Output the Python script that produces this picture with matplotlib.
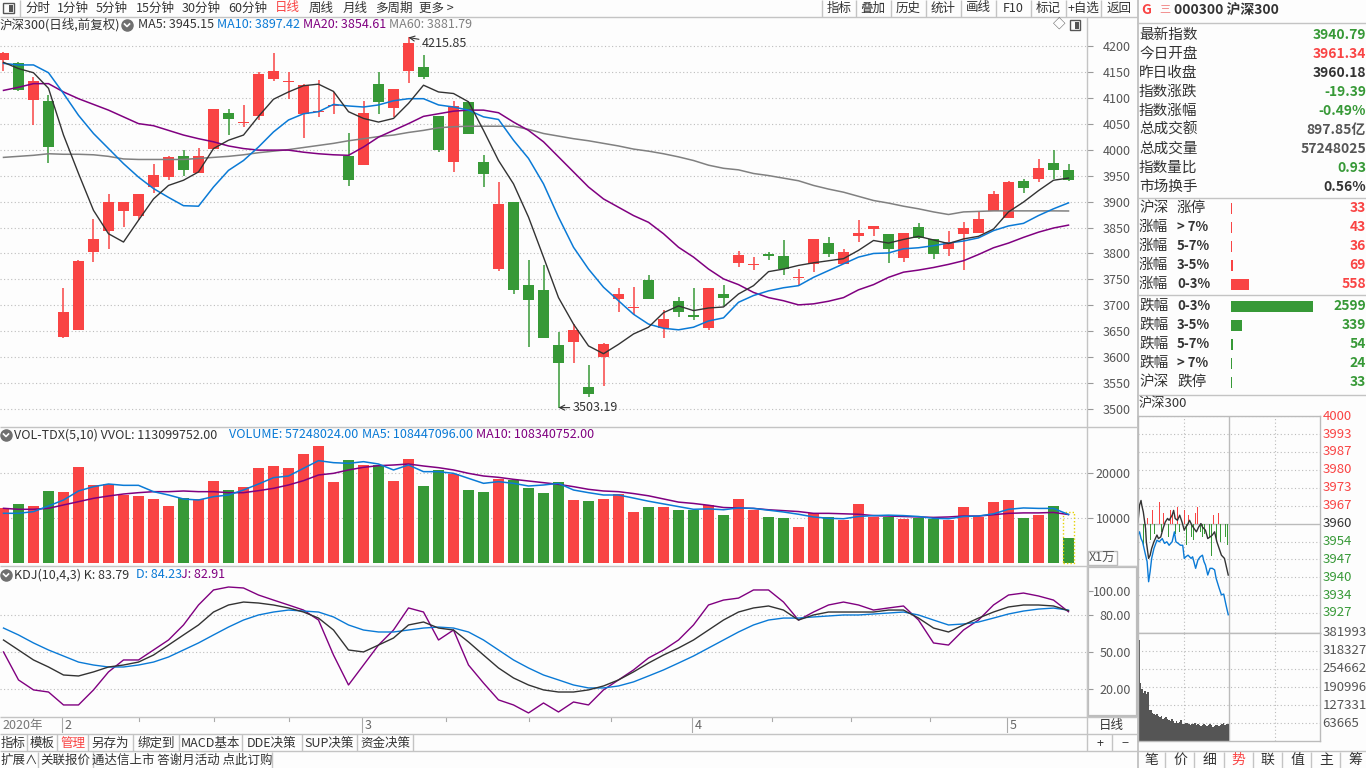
import numpy as np
import matplotlib
matplotlib.use("Agg")
import matplotlib.pyplot as plt
from matplotlib.patches import Rectangle
from matplotlib.transforms import blended_transform_factory as btf

plt.rcParams['font.family'] = ['Noto Sans CJK SC', 'DejaVu Sans']
plt.rcParams['axes.unicode_minus'] = False

# ---------------- data ----------------
opens = [4172,4166,4095,4094,3640,3653,3802,3843,3881,3873,
         3928,3947,3987,3955,4001,4070,4052,4065,4136,4131,
         4068,4072,4084,3988,3970,4127,4080,4152,4159,4064,
         3976,4091,3977,3771,3900,3739,3730,3624,3630,3543,
         3600,3712,3695,3748,3657,3709,3682,3657,3722,3781,
         3778,3799,3796,3752,3779,3820,3779,3833,3847,3838,
         3791,3851,3827,3808,3837,3839,3881,3868,3939,3943,
         3975,3961.34]
highs = [4188,4168,4140,4105,3733,3788,3867,3915,3900,3915,
         3972,3987,4000,4003,4078,4078,4085,4149,4186,4149,
         4127,4134,4110,4031,4094,4149,4116,4215.85,4182,4064,
         4093,4091,3989,3937,3900,3788,3777,3648,3664,3585,
         3627,3733,3736,3759,3691,3717,3733,3734,3740,3804,
         3794,3802,3825,3771,3827,3831,3808,3864,3853,3838,
         3840,3858,3827,3844,3860,3882,3921,3939,3943,3981,
         3999,3972]
lows = [4152,4112,4047,3974,3637,3653,3783,3808,3851,3864,
        3916,3941,3950,3955,4001,4028,4044,4057,4132,4098,
        4022,4063,4069,3930,3970,4069,4063,4129,4136,3996,
        3957,4030,3928,3767,3722,3619,3637,3503.19,3590,3524,
        3545,3687,3682,3712,3638,3677,3672,3653,3699,3773,
        3768,3787,3759,3740,3765,3794,3779,3822,3833,3781,
        3783,3827,3789,3795,3769,3839,3881,3868,3916,3937,
        3944,3940]
closes = [4186,4115,4132,4005,3688,3786,3828,3900,3900,3915,
          3952,3985,3960,3988,4078,4058,4053,4145,4151,4132,
          4124,4073,4085,3941,4071,4092,4116,4206,4140,3999,
          4084,4030,3953,3896,3729,3710,3637,3590,3653,3530,
          3625,3722,3697,3712,3674,3687,3677,3734,3714,3798,
          3779,3795,3770,3753,3827,3799,3803,3840,3853,3808,
          3840,3830,3799,3822,3850,3867,3914,3937,3926,3964,
          3961,3940.79]
ma5 = [4168,4156,4148,4118,4028,3954,3883,3838,3822,3864,
       3905,3931,3941,3957,4002,4018,4028,4064,4097,4111,
       4123,4126,4112,4073,4060,4053,4060,4089,4124,4111,
       4108,4092,4037,3979,3934,3870,3793,3715,3664,3622,
       3607,3625,3645,3658,3686,3699,3690,3695,3697,3722,
       3738,3765,3770,3777,3782,3786,3790,3806,3825,3820,
       3827,3833,3826,3819,3828,3833,3847,3880,3899,3921,
       3941,3945.15]
ma10 = [4166,4163,4163,4148,4108,4066,4031,4002,3973,3947,
        3925,3908,3892,3891,3928,3960,3979,4005,4034,4057,
        4069,4073,4087,4084,4082,4086,4094,4098,4098,4086,
        4082,4076,4063,4058,4018,3983,3934,3870,3812,3770,
        3735,3709,3683,3664,3656,3653,3658,3670,3676,3706,
        3719,3728,3734,3738,3754,3767,3780,3793,3800,3801,
        3809,3811,3815,3820,3824,3830,3844,3853,3858,3873,
        3886,3897.42]
ma20 = [4114,4120,4127,4127,4111,4098,4087,4076,4063,4050,
        4046,4037,4028,4021,4015,4007,4002,3999,3999,3999,
        3995,3992,3990,3989,4005,4024,4037,4050,4064,4069,
        4074,4076,4076,4071,4053,4037,4015,3986,3957,3928,
        3905,3889,3873,3860,3838,3812,3793,3770,3751,3740,
        3725,3715,3709,3701,3703,3708,3715,3730,3740,3754,
        3764,3768,3773,3779,3786,3798,3811,3820,3831,3841,
        3849,3854.61]
ma60 = [3985,3987,3989,3992,3991,3991,3990,3987,3982,3981,
        3981,3981,3981,3983,3985,3987,3990,3994,3997,4000,
        4004,4008,4012,4017,4021,4025,4028,4033,4037,4042,
        4044,4045,4045,4045,4045,4039,4031,4026,4021,4017,
        4012,4007,4001,3997,3992,3986,3979,3970,3964,3961,
        3954,3950,3945,3940,3931,3924,3918,3910,3902,3897,
        3891,3886,3880,3875,3880,3881,3882,3882,3882,3882,
        3882,3881.79]
# volume in units of 10,000 (万)
volume = [12356,13178,12733,16067,15911,21400,17400,17622,15178,14956,
          14289,12733,14511,14222,18289,16289,16956,21178,21622,21178,
          24289,26067,18067,22956,21844,21844,18289,23178,17178,20733,
          19844,16289,15844,18733,18511,16733,15622,18067,14067,13844,
          14289,15400,11400,12511,12511,11844,11844,12956,10733,14289,
          11844,10289,10067,8067,11178,10289,9622,13178,10289,10289,
          9844,10067,9844,9622,12511,10289,13622,14067,10067,10733,
          12733,5724.8]
vol_ma5 = [11111,11111,11481,12741,14067,16067,17030,17622,17326,17326,
           15919,15178,14289,14067,14807,15178,16289,17622,19030,19400,
           21104,22807,22363,22215,22585,22067,20741,21844,20363,20363,
           19993,18881,17770,18141,17770,17178,17400,17770,16289,15696,
           15178,15178,14500,13800,13200,12600,12000,12100,11900,12300,
           12200,11800,11400,10900,10300,10000,9900,10400,10600,10700,
           10600,10400,10000,9900,10400,10500,11000,12000,12300,12200,
           12200,10845]
vol_ma10 = [12222,12000,12000,12222,12963,13696,14437,14956,15400,15696,
            15919,15919,16067,15919,15919,15696,15696,16141,16659,17400,
            18363,19622,19993,20741,21326,21696,21844,22067,21622,21252,
            20741,19993,19400,19104,18659,18289,17919,17548,17030,16437,
            16067,15919,15500,15000,14300,13600,13300,12900,12400,12300,
            12200,11900,11700,11500,11100,11100,11000,10900,10600,10500,
            10400,10300,10200,10300,10500,10500,10800,11100,11200,11200,
            11300,10834]
vvol_est = 11309.98
kdj_k = [60.0,51.9,43.8,38.1,31.6,30.8,34.1,38.1,39.7,42.1,
         47.8,55.9,64.1,72.2,82.7,88.4,90.8,90.0,88.4,86.0,
         82.7,77.8,68.1,51.9,50.3,55.9,61.6,72.2,74.6,69.7,
         68.1,58.4,47.8,37.3,29.2,23.5,19.5,17.8,17.8,19.5,
         22.7,27.6,34.1,41.3,47.8,53.5,60.0,68.1,76.2,82.7,
         86.0,87.6,84.3,76.2,80.3,82.7,82.7,82.7,82.7,84.3,
         84.3,77.8,69.7,66.5,72.2,77.8,82.7,86.8,88.4,88.4,
         87.6,83.79]
kdj_d = [69.7,64.1,57.6,51.9,47.0,42.1,39.7,38.1,38.1,39.7,
         42.1,46.2,51.9,57.6,64.1,70.5,76.2,80.3,82.7,84.3,
         83.5,82.7,78.7,72.2,68.1,66.5,66.5,68.1,69.7,70.5,
         69.7,66.5,60.0,51.9,43.8,37.3,31.6,27.6,23.5,21.1,
         21.1,22.7,26.0,30.8,35.7,41.3,47.0,53.5,60.0,66.5,
         72.2,76.2,77.8,77.8,78.7,79.5,80.3,80.3,81.1,81.9,
         82.7,80.3,76.2,72.2,73.0,74.6,77.8,81.1,83.5,85.1,
         85.9,84.23]
kdj_j = [50.3,27.6,19.5,17.8,7.3,7.3,19.5,34.1,43.8,43.8,
         51.9,60.0,72.2,88.4,100.6,103.0,102.2,96.5,92.4,88.4,
         84.3,76.2,47.8,23.5,39.7,55.9,68.1,86.0,82.7,60.0,
         68.1,39.7,25.1,11.4,7.3,0.8,8.9,1.6,9.7,7.3,
         19.5,27.6,35.7,45.4,51.9,60.0,72.2,88.4,92.4,94.0,
         100.6,100.6,90.8,76.2,82.7,88.4,90.8,88.4,84.3,86.0,
         87.6,76.2,57.6,55.9,68.1,76.2,88.4,96.5,98.1,95.7,
         92.4,82.91]
month_labels = ['2', '3', '4', '5']
month_idx = [4, 24, 46, 67]
price_ticks = [3500, 3550, 3600, 3650, 3700, 3750, 3800, 3850, 3900, 3950, 4000, 4050, 4100, 4150, 4200]
vol_ticks = [10000, 20000]
kdj_ticks = [20, 50, 80, 100]

# intraday mini chart (minutes since open)
intra_min = [0,2,4,5,7,10,11,14,16,18,21,25,27,30,33,36,39,41,45,47,49,52,55,58,61,63,65,68,71,74,77,80,83,85,89,92,95,98,101,104,107,110,114,117,119]
intra_px = [3960.6,3966.8,3968.6,3966.8,3964.3,3958.1,3953.2,3947.0,3948.2,3950.7,3953.2,3955.7,3954.4,3955.0,3958.1,3960.6,3961.9,3961.2,3963.1,3964.9,3961.9,3961.2,3963.1,3960.6,3957.5,3958.7,3959.4,3961.2,3959.4,3958.1,3956.9,3958.7,3960.0,3958.7,3957.5,3954.4,3955.0,3955.7,3956.9,3953.2,3950.7,3948.2,3947.0,3943.3,3940.8]
intra_min2 = [0,2,4,6,8,10,12,14,16,18,21,25,28,32,35,38,41,45,48,50,53,56,59,61,63,66,70,72,76,79,82,85,87,89,92,95,98,101,103,107,110,113,116,119]
intra_avg = [3955.7,3956.9,3954.4,3953.2,3950.7,3948.2,3945.8,3938.3,3942.1,3947.0,3950.7,3953.8,3953.2,3954.4,3952.6,3953.2,3951.9,3953.2,3956.9,3953.2,3952.6,3951.9,3951.9,3947.0,3947.6,3948.2,3947.0,3947.6,3943.3,3946.4,3947.6,3948.2,3945.8,3944.5,3940.8,3943.3,3943.3,3942.7,3939.6,3935.9,3933.4,3933.7,3929.7,3926.0]
breadth = [-5,4,-8,-3,2,-6,5,-4,6,8,-3,4,6,-5,5,3,-4,6,-3,-6,5,-8,3,-5,-6,4,6,-3,-5,-4,3,-5,-12,3,-6,4,-7,3,-5,-8]
intra_vol = [356000,204000,185000,170000,178000,165000,172000,112000,110000,100000,
             95000,92000,98000,90000,85000,88000,80000,82000,86000,78000,
             75000,72000,78000,70000,66000,72000,64000,68000,74000,62000,
             60000,64000,66000,60000,58000,62000,60000,64000,58000,62000,
             58000,55000,57000,60000,56000,54000,58000,62000,56000,52000,
             54000,57000,59000,54000,56000,62000,64000,58000,60000,62000]
mini_price_ticks = [4000,3993.3,3986.7,3980,3973.3,3966.7,3960,3953.3,3946.7,3940,3933.3,3926.7]
mini_price_labels = ['4000','3993','3987','3980','3973','3967','3960','3954','3947','3940','3934','3927']
mini_vol_ticks = [381993,318327,254662,190996,127331,63665]

quote_labels = ['最新指数','今日开盘','昨日收盘','指数涨跌','指数涨幅','总成交额','总成交量','指数量比','市场换手']
quote_values = ['3940.79','3961.34','3960.18','-19.39','-0.49%','897.85亿','57248025','0.93','0.56%']
breadth_labels = [('沪深','涨停'),('涨幅','> 7%'),('涨幅','5-7%'),('涨幅','3-5%'),('涨幅','0-3%'),
                  ('跌幅','0-3%'),('跌幅','3-5%'),('跌幅','5-7%'),('跌幅','> 7%'),('沪深','跌停')]
breadth_counts = [33,43,36,69,558,2599,339,54,24,33]

# ---------------- style ----------------
RED = '#F94444'
GREEN = '#379937'
BLUE = '#0A7AD6'
PURPLE = '#800080'
GRAY60 = '#808080'
BLACK = '#333333'
LINE = '#C4C4C4'
BG = '#FDFDFD'
W, H = 1366, 768

fig = plt.figure(figsize=(W / 100, H / 100), dpi=100, facecolor=BG)

def pax(x0, y0, x1, y1, z=1):
    a = fig.add_axes([x0 / W, 1 - y1 / H, (x1 - x0) / W, (y1 - y0) / H], zorder=z)
    a.set_facecolor(BG)
    for s in a.spines.values():
        s.set_visible(False)
    return a

n = len(closes)
idx = np.arange(n)
up = np.array(closes) >= np.array(opens)
cols = [RED if u else GREEN for u in up]
XL = (-0.2333, 72.233)
DOT = (0, (1, 2.2))

def right_labels(ax, ticks, labels, pad_px=44, fs=9, color='#555555'):
    ax.yaxis.tick_right()
    ax.set_yticks(ticks)
    ax.set_yticklabels(labels)
    ax.tick_params(axis='y', length=4, width=0.8, color='#999999', pad=(pad_px - 5.6) * 0.72,
                   labelsize=fs, labelcolor=color, direction='out')
    for t in ax.get_yticklabels():
        t.set_ha('right')
    ax.tick_params(axis='x', bottom=False, labelbottom=False)

# ---------------- main price panel ----------------
ax = pax(0, 33, 1087, 426)
ax.set_xlim(*XL)
ax.set_ylim(3467.8, 4224.5)
for v in price_ticks:
    ax.axhline(v, color='#BDBDBD', lw=0.8, ls=DOT, zorder=0)
ax.vlines(idx, lows, highs, colors=cols, lw=1.1, zorder=2)
bottoms = np.minimum(opens, closes)
heights = np.maximum(np.abs(np.array(closes) - np.array(opens)), 1.9)
ax.bar(idx, heights, bottom=bottoms, width=0.72, color=cols, lw=0, zorder=3)
ax.plot(idx, ma60, color=GRAY60, lw=1.1, zorder=4)
ax.plot(idx, ma20, color=PURPLE, lw=1.1, zorder=4)
ax.plot(idx, ma10, color=BLUE, lw=1.1, zorder=4)
ax.plot(idx, ma5, color=BLACK, lw=1.0, zorder=4)
right_labels(ax, price_ticks, [str(v) for v in price_ticks])
hi_i = int(np.argmax(highs)); lo_i = int(np.argmin(lows))
ax.annotate('%.2f' % highs[hi_i], xy=(hi_i, highs[hi_i]), xytext=(9.5, -4.5), textcoords='offset points',
            ha='left', va='center', fontsize=9, color=BLACK,
            arrowprops=dict(arrowstyle='->', color=BLACK, lw=0.8, shrinkA=0, shrinkB=0), zorder=6)
ax.annotate('%.2f' % lows[lo_i], xy=(lo_i, lows[lo_i]), xytext=(10, 0), textcoords='offset points',
            ha='left', va='center', fontsize=9, color=BLACK,
            arrowprops=dict(arrowstyle='->', color=BLACK, lw=0.8, shrinkA=0, shrinkB=0), zorder=6)

# ---------------- volume panel ----------------
vx = pax(0, 443, 1087, 565)
vx.set_xlim(*XL)
vx.set_ylim(-378, (563.3 - 443) / 0.0045)
for v in vol_ticks:
    vx.axhline(v, color='#BDBDBD', lw=0.8, ls=DOT, zorder=0)
vx.bar(idx, volume, width=0.72, color=cols, lw=0, zorder=2)
vx.add_patch(Rectangle((idx[-1] - 0.36, 0), 0.72, vvol_est, fill=False, ec='#E5D200', lw=1, ls=(0, (1, 1.5)), zorder=3))
vx.plot(idx, vol_ma10, color=PURPLE, lw=1.1, zorder=4)
vx.plot(idx, vol_ma5, color=BLUE, lw=1.1, zorder=4)
right_labels(vx, vol_ticks, [str(v) for v in vol_ticks])

# ---------------- KDJ panel ----------------
kx = pax(0, 583, 1087, 717)
kx.set_xlim(*XL)
kx.set_ylim(100 - (717 - 590.7) / 1.2325, 100 + (590.7 - 583) / 1.2325)
for v in kdj_ticks[:-1]:
    kx.axhline(v, color='#BDBDBD', lw=0.8, ls=DOT, zorder=0)
kx.plot(idx, kdj_j, color=PURPLE, lw=1.0, zorder=3)
kx.plot(idx, kdj_d, color=BLUE, lw=1.0, zorder=3)
kx.plot(idx, kdj_k, color=BLACK, lw=1.0, zorder=4)
right_labels(kx, kdj_ticks, ['%.2f' % v for v in kdj_ticks])

# ---------------- date row ----------------
dx = pax(0, 717, 1087, 733)
dx.set_xlim(*XL)
dx.set_ylim(0, 1)
dx.axis('off')
for a_, b_ in zip(month_idx[:-1], month_idx[1:]):
    for q in (0.25, 0.5, 0.75):
        m = a_ + (b_ - a_) * q
        dx.plot([m, m], [1, 0.72], color='#AAAAAA', lw=0.8)
for m, lab in zip(month_idx, month_labels):
    dx.plot([m - 0.07, m - 0.07], [0, 1], color='#AAAAAA', lw=0.8)
    dx.text(m + 0.05, 0.45, lab, fontsize=9, color='#666666', va='center', ha='left')
dx.text(-0.1, 0.45, '2020年', fontsize=9, color='#777777', va='center', ha='left')

# ---------------- mini intraday (right panel) ----------------
mp = pax(1138, 415.7, 1320, 632.7, z=2)
mp.set_xlim(0, 240)
mp.set_ylim(3919.3, 4000.2)
for v in mini_price_ticks:
    if v != 3960:
        mp.axhline(v, color='#BBBBBB', lw=0.8, ls=DOT, zorder=0)
mp.axhline(3960, color='#BBBBBB', lw=1, zorder=0)
for m in (60, 180):
    mp.axvline(m, color='#BBBBBB', lw=0.8, ls=DOT, zorder=0)
mp.axvline(120, color='#BBBBBB', lw=1, zorder=0)
bmins = np.arange(len(breadth)) * 3 + 1
bcol = [RED if b > 0 else GREEN for b in breadth]
mp.bar(bmins, breadth, bottom=3960, width=1.1, color=bcol, lw=0, zorder=1)
mp.plot(intra_min2, intra_avg, color=BLUE, lw=1, zorder=3)
mp.plot(intra_min, intra_px, color=BLACK, lw=1, zorder=4)
mp.set_xticks([]); mp.set_yticks([])
for s in mp.spines.values():
    s.set_visible(True); s.set_color('#BBBBBB'); s.set_linewidth(1)
tr = btf(mp.transAxes, mp.transData)
for v, lab in zip(mini_price_ticks, mini_price_labels):
    c = RED if v > 3960.5 else (GREEN if v < 3959.5 else BLACK)
    mp.text(1.014, v, lab, transform=tr, fontsize=9.5, color=c, va='center', ha='left', clip_on=False)

mv = pax(1138, 632.7, 1320, 741.4, z=2)
mv.set_xlim(0, 240)
mv.set_ylim(0, 381993 * 1.0)
for v in mini_vol_ticks[1:]:
    mv.axhline(v, color='#BBBBBB', lw=0.8, ls=DOT, zorder=0)
for m in (60, 180):
    mv.axvline(m, color='#BBBBBB', lw=0.8, ls=DOT, zorder=0)
mv.axvline(120, color='#BBBBBB', lw=1, zorder=0)
vmins = np.arange(len(intra_vol)) * 2 + 1
mv.bar(vmins, intra_vol, width=2.0, color='#555555', lw=0, zorder=2)
mv.set_xticks([]); mv.set_yticks([])
for s in mv.spines.values():
    s.set_visible(True); s.set_color('#BBBBBB'); s.set_linewidth(1)
tr2 = btf(mv.transAxes, mv.transData)
for v in mini_vol_ticks:
    mv.text(1.014, v, str(v), transform=tr2, fontsize=9.5, color='#555555', va='center', ha='left', clip_on=False)

# ---------------- overlay chrome ----------------
ov = fig.add_axes([0, 0, 1, 1], zorder=20)
ov.set_xlim(0, W); ov.set_ylim(H, 0); ov.axis('off'); ov.patch.set_alpha(0)

def hl(y, x0, x1, c=LINE, lw=1):
    ov.plot([x0, x1], [y, y], color=c, lw=lw, solid_capstyle='butt')

def vl(x, y0, y1, c=LINE, lw=1):
    ov.plot([x, x], [y0, y1], color=c, lw=lw, solid_capstyle='butt')

def tx(x, y, s, fs=9, c=BLACK, ha='left', w='normal'):
    ov.text(x, y, s, fontsize=fs, color=c, ha=ha, va='center', fontweight=w)

# top toolbar
hl(16.5, 0, 1137)
vl(19.5, 0, 16.5)
ov.add_patch(Rectangle((3, 3), 11, 10, fill=False, ec='#555555', lw=1))
ov.add_patch(Rectangle((9, 4.5), 3.5, 7, fc='#555555', ec='none'))
tool_items = [('分时', 25), ('1分钟', 57), ('5分钟', 96), ('15分钟', 136), ('30分钟', 182), ('60分钟', 228),
              ('日线', 275), ('周线', 309), ('月线', 343), ('多周期', 375), ('更多 >', 419)]
for s, x in tool_items:
    tx(x, 8, s, fs=9, c=(RED if s == '日线' else BLACK))
right_btns = [('指标', 839), ('叠加', 873), ('历史', 908), ('统计', 943), ('画线', 978), ('F10', 1013),
              ('标记', 1048), ('+自选', 1083), ('返回', 1119)]
for xs in (822, 856, 891, 926, 961, 996, 1031, 1066, 1101):
    vl(xs, 0, 16.5)
for s, x in right_btns:
    tx(x, 8, s, fs=9, ha='center')

# title row main
tx(0, 25, '沪深300(日线,前复权)', fs=9)
ov.plot([127], [25], 'o', ms=8, color='#707070')
ov.plot([124.5, 127, 129.5], [24, 26.5, 24], color='white', lw=1.2)
tx(138, 25, 'MA5: 3945.15', fs=9, c=BLACK)
tx(217, 25, 'MA10: 3897.42', fs=9, c=BLUE)
tx(303, 25, 'MA20: 3854.61', fs=9, c=PURPLE)
tx(389, 25, 'MA60: 3881.79', fs=9, c=GRAY60)
tx(1059, 25, '◇', fs=9, c='#555555', ha='center')
ov.add_patch(Rectangle((1070, 20), 10, 10, fill=False, ec='#555555', lw=1))
ov.add_patch(Rectangle((1075, 21.5), 3.5, 7, fc='#555555', ec='none'))

# panel separators
vl(1087, 16.5, 751)
vl(1137.5, 0, 768, c='#BBBBBB', lw=1.2)
hl(427, 0, 1137)
hl(565.5, 0, 1137)
hl(717, 0, 1137)
hl(733.5, 0, 1137)
hl(751, 0, 1366)

# volume title
ov.plot([6], [435], 'o', ms=8, color='#707070')
ov.plot([3.5, 6, 8.5], [434, 436.5, 434], color='white', lw=1.2)
tx(14, 435, 'VOL-TDX(5,10) VVOL: 113099752.00', fs=9)
tx(229, 435, 'VOLUME: 57248024.00', fs=9, c=BLUE)
tx(362, 435, 'MA5: 108447096.00', fs=9, c=BLUE)
tx(476, 435, 'MA10: 108340752.00', fs=9, c=PURPLE)
ov.add_patch(Rectangle((1088, 551), 29, 14, fill=False, ec='#BBBBBB', lw=1))
tx(1102.5, 558, 'X1万', fs=9, c='#555555', ha='center')

# KDJ title
ov.plot([6], [575], 'o', ms=8, color='#707070')
ov.plot([3.5, 6, 8.5], [574, 576.5, 574], color='white', lw=1.2)
tx(14, 575, 'KDJ(10,4,3) K: 83.79', fs=9)
tx(136, 575, 'D: 84.23', fs=9, c=BLUE)
tx(181, 575, 'J: 82.91', fs=9, c=PURPLE)
ov.add_patch(Rectangle((1088, 567), 49, 149, fill=False, ec='#BDBDBD', lw=1.6))

# date row right
tx(1111, 725, '日线', fs=9, ha='center')
tx(1100, 743, '+', fs=9, ha='center')
tx(1125, 743, '−', fs=9, ha='center')
vl(1112, 734, 751)

# bottom tabs
tabs = [('指标', 0, 27), ('模板', 28, 57), ('管理', 58, 88), ('另存为', 88, 133), ('绑定到', 133, 179),
        ('MACD基本', 179, 242), ('DDE决策', 242, 302), ('SUP决策', 302, 357), ('资金决策', 357, 413)]
for s, x0, x1 in tabs:
    tx((x0 + x1) / 2, 743, s, fs=9, c=(RED if s == '管理' else BLACK), ha='center')
    vl(x1, 734, 751)
tabs2 = [('扩展∧', 0, 38), ('关联报价', 38, 93), ('通达信上市 答谢月活动 点此订购', 93, 272)]
for s, x0, x1 in tabs2:
    tx((x0 + x1) / 2, 760, s, fs=9, ha='center')
    vl(x1, 752, 768)

# right panel header
tx(1141, 10, 'G', fs=10, c=RED, w='bold')
tx(1159, 10, '三', fs=8, c='#F08080')
tx(1174, 10, '000300 沪深300', fs=10, c=BLACK, w='bold')
hl(22.5, 1137, 1366)
qcols = [GREEN, RED, BLACK, GREEN, GREEN, '#555555', '#555555', GREEN, BLACK]
for k, (lab, val, c) in enumerate(zip(quote_labels, quote_values, qcols)):
    y = 35 + k * 19
    tx(1139, y, lab, fs=10.5, c=BLACK)
    tx(1366, y, val, fs=10, c=c, ha='right', w='bold')
hl(198, 1137, 1366)
brow_y = [208, 227, 246, 265, 284, 306, 325, 344, 363, 382]
maxc = max(breadth_counts)
for k, ((a_, b_), cnt, y) in enumerate(zip(breadth_labels, breadth_counts, brow_y)):
    c = RED if k < 5 else GREEN
    tx(1139, y, a_, fs=10.5, c=BLACK)
    if b_ in ('涨停', '跌停'):
        tx(1177, y, b_, fs=10.5, c=BLACK)
    else:
        tx(1177, y, b_, fs=9.5, c=BLACK, w='bold')
    wbar = max(82 * cnt / maxc, 1)
    ov.add_patch(Rectangle((1231, y - 5.5), wbar, 11, fc=c, ec='none'))
    tx(1366, y, str(cnt), fs=10, c=c, ha='right', w='bold')
hl(295, 1137, 1366)
hl(394.5, 1137, 1366)
tx(1139, 404, '沪深300', fs=9.5, c=BLACK)

# right panel bottom tabs
rtabs = ['笔', '价', '细', '势', '联', '值', '主', '筹']
for k, s in enumerate(rtabs):
    x = 1151 + k * 29.2
    tx(x, 760, s, fs=10, c=(RED if s == '势' else BLACK), ha='center')
for xs in (1165, 1194, 1224, 1253, 1282, 1311, 1340):
    vl(xs, 752, 768)

fig.savefig('out.png', dpi=100, facecolor=BG)
